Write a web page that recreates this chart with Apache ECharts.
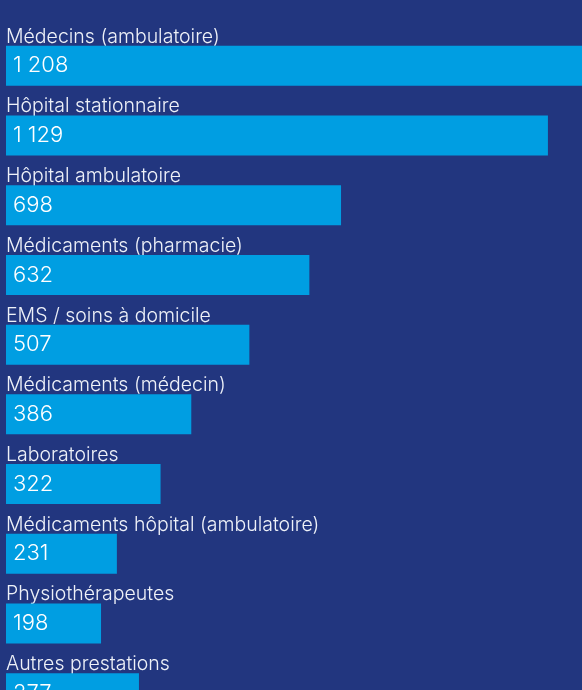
<!DOCTYPE html>
<html>
<head>
<meta charset="utf-8">
<script src="https://cdn.jsdelivr.net/npm/echarts@6/dist/echarts.min.js"></script>
<style>
  html, body { margin: 0; padding: 0; background: #22367f; overflow: hidden; }
  /* le graphique dépasse le cadre en bas, comme sur l'original */
  #chart { width: 582px; height: 728px; }
</style>
</head>
<body>
<div id="chart"></div>
<script>
  // catégories de coûts (de haut en bas)
  var categories = [
    'Médecins (ambulatoire)',
    'Hôpital stationnaire',
    'Hôpital ambulatoire',
    'Médicaments (pharmacie)',
    'EMS / soins à domicile',
    'Médicaments (médecin)',
    'Laboratoires',
    'Médicaments hôpital (ambulatoire)',
    'Physiothérapeutes',
    'Autres prestations'
  ]
  var values = [1208, 1129, 698, 632, 507, 386, 322, 231, 198, 277]

  var chart = echarts.init(document.getElementById('chart'))
  var option = {
    backgroundColor: '#22367f',
    animation: false,
    grid: {
      left: 6,
      top: 31,
      width: 577,
      height: 697
    },
    xAxis: {
      type: 'value',
      min: 0,
      max: 1200,
      show: false
    },
    yAxis: {
      type: 'category',
      data: categories,
      inverse: true,
      axisLine: { show: false },
      axisTick: { show: false },
      axisLabel: {
        inside: true,
        margin: 0,
        align: 'left',
        verticalAlign: 'bottom',
        padding: [0, 0, 19, 0],
        lineHeight: 20,
        color: '#eef1f8',
        fontFamily: 'Inter',
        fontWeight: 300,
        fontSize: 19.5
      }
    },
    series: [
      {
        type: 'bar',
        data: values,
        barWidth: 40,
        itemStyle: { color: '#009ee2' },
        label: {
          show: true,
          position: 'insideLeft',
          distance: 7,
          padding: [3, 0, 0, 0],
          color: '#ffffff',
          fontFamily: 'Inter',
          fontWeight: 300,
          fontSize: 22,
          formatter: function (p) {
            return String(p.value).replace(/\B(?=(\d{3})+(?!\d))/g, ' ')
          }
        }
      }
    ]
  }
  chart.setOption(option)
  window.addEventListener('resize', function () {
    chart.resize()
  })
</script>
</body>
</html>
